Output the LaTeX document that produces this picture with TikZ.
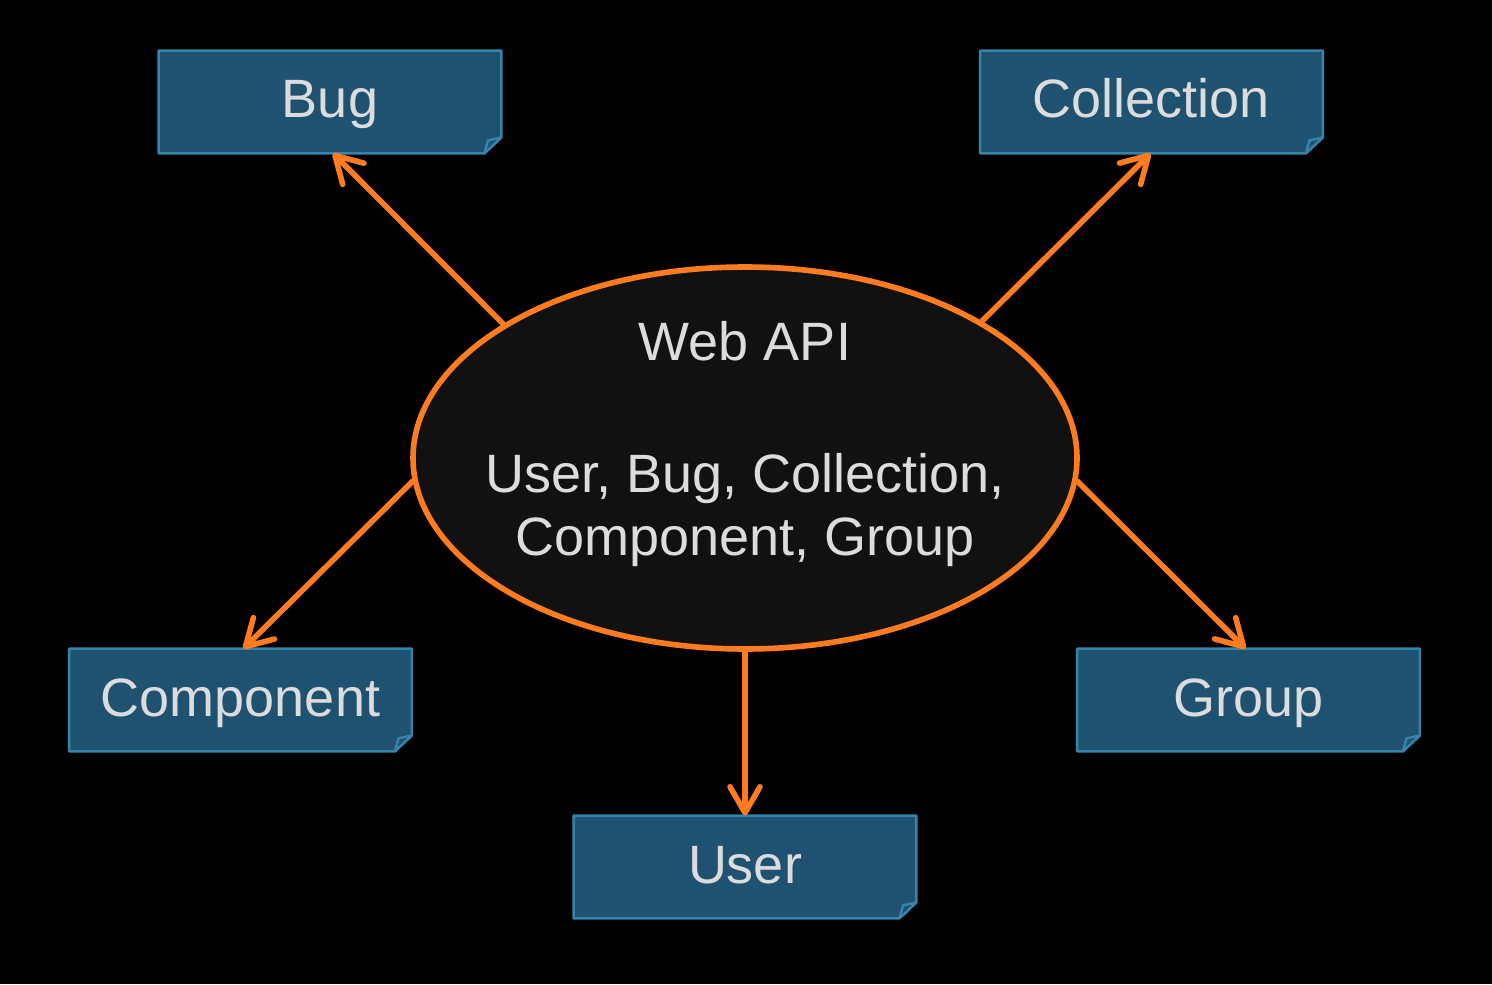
\documentclass[tikz,border=0pt]{standalone}
\usepackage{fontspec}
\setmainfont{Liberation Sans}
\usetikzlibrary{shapes.geometric,arrows.meta,calc}
\pgfdeclarelayer{background}
\pgfsetlayers{background,main}
\definecolor{orng}{HTML}{FF7B1F}
\definecolor{boxfill}{HTML}{1F5270}
\definecolor{boxline}{HTML}{3683AC}
\definecolor{ellfill}{HTML}{111111}
\definecolor{txt}{HTML}{DCDCDC}
\tikzset{
  notebox/.style={minimum width=171pt, minimum height=51pt, inner sep=0pt,
    text=txt, font=\fontsize{27pt}{31.5pt}\selectfont, text height=20pt, text depth=4pt},
  boxshape/.style={fill=boxfill, draw=boxline, line width=1.2pt, line join=bevel},
  conn/.style={draw=orng, line width=2.8pt, line cap=round,
    -{Straight Barb[length=13pt,width=15pt,round]}},
  apitxt/.style={text=txt, font=\fontsize{27pt}{31.5pt}\selectfont, inner sep=0pt, anchor=base}
}
\newcommand\foldshape[1]{%
  \begin{pgfonlayer}{background}
  \draw[boxshape] (#1.north west) -- (#1.north east) -- ([yshift=8pt]#1.south east)
     -- ([xshift=-8.5pt]#1.south east) -- (#1.south west) -- cycle;
  \draw[boxshape] ([xshift=-8.5pt]#1.south east) -- ([xshift=-6.7pt,yshift=6.5pt]#1.south east)
     -- ([yshift=8pt]#1.south east) -- cycle;
  \end{pgfonlayer}}
\begin{document}
\begin{tikzpicture}[x=0.5pt,y=-0.5pt]
\begin{pgfonlayer}{background}
\fill[black] (0,0) rectangle (1492,984);
\end{pgfonlayer}
\useasboundingbox (0,0) rectangle (1492,984);

\node[ellipse, draw=orng, fill=ellfill, line width=2.8pt, minimum width=332pt, minimum height=191pt, inner sep=0pt] (api) at (745,458) {};
\node[apitxt] (webapi) at (745,360) {Web API};
\node[apitxt] (apil1) at (745,492) {User, Bug, Collection,};
\node[apitxt] (apil2) at (745,555) {Component, Group};

\node[notebox] (bug) at (330,102) {Bug};
\foldshape{bug}
\node[notebox] (coll) at (1151.5,102) {Collection};
\foldshape{coll}
\node[notebox] (comp) at (240.5,700) {Component};
\foldshape{comp}
\node[notebox] (group) at (1248.5,700) {Group};
\foldshape{group}
\node[notebox] (user) at (745,867) {User};
\foldshape{user}

\draw[conn] (api.151) -- ([xshift=1.5pt]bug.south);
\draw[conn] (api.30) -- ([xshift=-0.5pt]coll.south);
\draw[conn] (api.184) -- ([xshift=1.5pt]comp.north);
\draw[conn] (api.356) -- ([xshift=-1.5pt]group.north);
\draw[conn] (api.south) -- (user.north);
\end{tikzpicture}
\end{document}
